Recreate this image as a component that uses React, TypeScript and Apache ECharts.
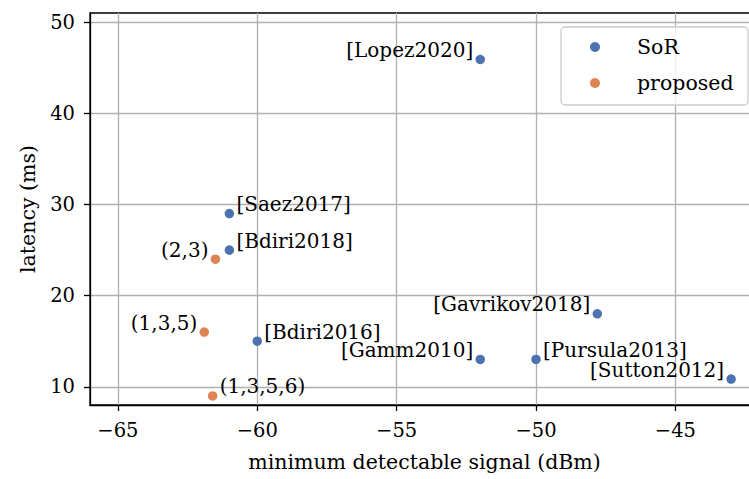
import React, { useEffect, useRef } from "react";
import * as echarts from "echarts";

// Prior-art systems (SoR) vs. the proposed configurations
const sorNames = [
  "[Lopez2020]",
  "[Saez2017]",
  "[Bdiri2018]",
  "[Gavrikov2018]",
  "[Bdiri2016]",
  "[Gamm2010]",
  "[Pursula2013]",
  "[Sutton2012]",
];
const sorSignal = [-52, -61, -61, -47.8, -60, -52, -50, -43];
const sorLatency = [45.9, 29, 25, 18, 15, 13, 13, 10.85];

const proposedNames = ["(2,3)", "(1,3,5)", "(1,3,5,6)"];
const proposedSignal = [-61.5, -61.9, -61.6];
const proposedLatency = [24, 16, 9];

const xTicks = [-65, -60, -55, -50, -45];
const yTicks = [10, 20, 30, 40, 50];

// Which side of its marker each annotation sits on
const labelSide: Record<string, "left" | "right"> = {
  "[Lopez2020]": "left",
  "[Saez2017]": "right",
  "[Bdiri2018]": "right",
  "[Gavrikov2018]": "left",
  "[Bdiri2016]": "right",
  "[Gamm2010]": "left",
  "[Pursula2013]": "right",
  "[Sutton2012]": "left",
  "(2,3)": "left",
  "(1,3,5)": "left",
  "(1,3,5,6)": "right",
};

const FONT = "DejaVu Serif";
const FS = 20;
const BLUE = "#4c72b0";
const ORANGE = "#dd8452";

const fmt = (v: number) => (v < 0 ? "\u2212" + Math.abs(v) : String(v));

function points(names: string[], xs: number[], ys: number[]) {
  return names.map((name, i) => {
    const side = labelSide[name];
    return {
      name,
      value: [xs[i], ys[i]],
      label: {
        show: true,
        position: "inside",
        formatter: name,
        align: side === "left" ? "right" : "left",
        verticalAlign: "bottom",
        offset: [side === "left" ? -7 : 7, -1],
        fontFamily: FONT,
        fontSize: FS,
        lineHeight: 17,
        color: "#000",
      },
    };
  });
}

export default function App() {
  const ref = useRef<HTMLDivElement>(null);

  useEffect(() => {
    if (!ref.current) return;
    const chart = echarts.init(ref.current, undefined, { renderer: "svg" });

    const axisCommon = {
      axisLine: { show: true, lineStyle: { color: "#000", width: 1.3 } },
      axisTick: { show: true, length: 6, lineStyle: { color: "#000", width: 1.3 } },
      splitLine: { show: true, lineStyle: { color: "#b0b0b0", width: 1.3 } },
      nameTextStyle: { fontFamily: FONT, fontSize: 20.5, color: "#000" },
    };

    chart.setOption({
      animation: false,
      backgroundColor: "#fff",
      grid: {
        left: 90,
        top: 13,
        width: 669,
        height: 392,
        show: true,
        borderColor: "#000",
        borderWidth: 1.3,
        backgroundColor: "transparent",
      },
      xAxis: {
        type: "value",
        min: -66,
        max: -42,
        name: "minimum detectable signal (dBm)",
        nameLocation: "middle",
        nameGap: 46,
        ...axisCommon,
        axisTick: { ...axisCommon.axisTick, customValues: xTicks },
        axisLabel: {
          customValues: xTicks,
          formatter: fmt,
          margin: 15,
          fontFamily: FONT,
          fontSize: 19.5,
          color: "#000",
        },
      },
      yAxis: {
        type: "value",
        min: 8,
        max: 51,
        name: "latency (ms)",
        nameLocation: "middle",
        nameGap: 52,
        ...axisCommon,
        axisTick: { ...axisCommon.axisTick, customValues: yTicks },
        axisLabel: {
          customValues: yTicks,
          formatter: fmt,
          margin: 15,
          fontFamily: FONT,
          fontSize: 19.5,
          color: "#000",
        },
      },
      legend: {
        orient: "vertical",
        left: 585,
        top: 30,
        z: 10,
        itemWidth: 20,
        itemHeight: 10,
        itemGap: 12,
        icon: "circle",
        data: ["SoR", "proposed"],
        textStyle: {
          fontFamily: FONT,
          fontSize: 20.5,
          lineHeight: 24,
          color: "#000",
          padding: [0, 0, 0, 27],
        },
      },
      graphic: [
        {
          type: "rect",
          z: 3,
          shape: { x: 561, y: 27, width: 187, height: 78, r: 4 },
          style: { fill: "rgba(255,255,255,0.8)", stroke: "#cccccc", lineWidth: 1.3 },
        },
      ],
      series: [
        {
          name: "SoR",
          type: "scatter",
          symbol: "circle",
          symbolSize: 9.5,
          itemStyle: { color: BLUE, opacity: 1 },
          data: points(sorNames, sorSignal, sorLatency),
        },
        {
          name: "proposed",
          type: "scatter",
          symbol: "circle",
          symbolSize: 9.5,
          itemStyle: { color: ORANGE, opacity: 1 },
          data: points(proposedNames, proposedSignal, proposedLatency),
        },
      ],
    });

    return () => chart.dispose();
  }, []);

  // The plot frame continues past the right edge of the window, so the
  // container is wider than the visible page.
  return (
    <div
      ref={ref}
      style={{ position: "fixed", left: 0, top: 0, width: 770, height: 479 }}
    />
  );
}
